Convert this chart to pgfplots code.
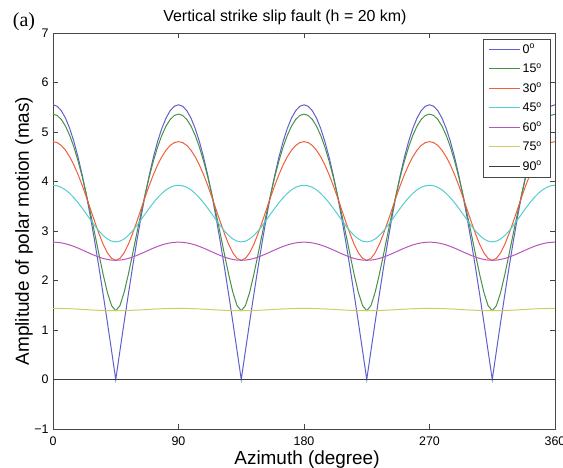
\documentclass[border=0pt]{standalone}
\usepackage{pgfplots}
\pgfplotsset{compat=1.18}
\usepackage{pgfplotstable}
\usepackage{fontspec}
\setmainfont{Liberation Sans}
\newfontfamily\serifit{Liberation Serif}
\definecolor{axgray}{RGB}{70,70,70}
\definecolor{c0}{RGB}{95,95,205}
\definecolor{c15}{RGB}{70,145,70}
\definecolor{c30}{RGB}{240,95,60}
\definecolor{c45}{RGB}{85,205,205}
\definecolor{c60}{RGB}{185,85,185}
\definecolor{c75}{RGB}{205,205,100}
\definecolor{c90}{RGB}{60,60,60}
\pgfplotstableread{
t a b c d e f
0 5.550 5.361 4.806 3.924 2.775 1.437
3 5.520 5.334 4.786 3.914 2.771 1.436
6 5.429 5.252 4.727 3.882 2.760 1.435
9 5.278 5.117 4.631 3.830 2.742 1.432
12 5.070 4.930 4.498 3.759 2.718 1.429
15 4.806 4.695 4.333 3.672 2.688 1.425
18 4.490 4.414 4.138 3.571 2.654 1.421
21 4.124 4.091 3.918 3.459 2.617 1.416
24 3.714 3.733 3.680 3.341 2.579 1.411
27 3.262 3.346 3.431 3.222 2.541 1.406
30 2.775 2.939 3.182 3.106 2.505 1.402
33 2.257 2.523 2.943 2.999 2.472 1.398
36 1.715 2.119 2.729 2.909 2.445 1.395
39 1.154 1.758 2.558 2.839 2.425 1.392
42 0.580 1.492 2.447 2.795 2.412 1.391
45 0.000 1.390 2.408 2.780 2.408 1.390
48 0.580 1.492 2.447 2.795 2.412 1.391
51 1.154 1.758 2.558 2.839 2.425 1.392
54 1.715 2.119 2.729 2.909 2.445 1.395
57 2.257 2.523 2.943 2.999 2.472 1.398
60 2.775 2.939 3.182 3.106 2.505 1.402
63 3.262 3.346 3.431 3.222 2.541 1.406
66 3.714 3.733 3.680 3.341 2.579 1.411
69 4.124 4.091 3.918 3.459 2.617 1.416
72 4.490 4.414 4.138 3.571 2.654 1.421
75 4.806 4.695 4.333 3.672 2.688 1.425
78 5.070 4.930 4.498 3.759 2.718 1.429
81 5.278 5.117 4.631 3.830 2.742 1.432
84 5.429 5.252 4.727 3.882 2.760 1.435
87 5.520 5.334 4.786 3.914 2.771 1.436
90 5.550 5.361 4.806 3.924 2.775 1.437
93 5.520 5.334 4.786 3.914 2.771 1.436
96 5.429 5.252 4.727 3.882 2.760 1.435
99 5.278 5.117 4.631 3.830 2.742 1.432
102 5.070 4.930 4.498 3.759 2.718 1.429
105 4.806 4.695 4.333 3.672 2.688 1.425
108 4.490 4.414 4.138 3.571 2.654 1.421
111 4.124 4.091 3.918 3.459 2.617 1.416
114 3.714 3.733 3.680 3.341 2.579 1.411
117 3.262 3.346 3.431 3.222 2.541 1.406
120 2.775 2.939 3.182 3.106 2.505 1.402
123 2.257 2.523 2.943 2.999 2.472 1.398
126 1.715 2.119 2.729 2.909 2.445 1.395
129 1.154 1.758 2.558 2.839 2.425 1.392
132 0.580 1.492 2.447 2.795 2.412 1.391
135 0.000 1.390 2.408 2.780 2.408 1.390
138 0.580 1.492 2.447 2.795 2.412 1.391
141 1.154 1.758 2.558 2.839 2.425 1.392
144 1.715 2.119 2.729 2.909 2.445 1.395
147 2.257 2.523 2.943 2.999 2.472 1.398
150 2.775 2.939 3.182 3.106 2.505 1.402
153 3.262 3.346 3.431 3.222 2.541 1.406
156 3.714 3.733 3.680 3.341 2.579 1.411
159 4.124 4.091 3.918 3.459 2.617 1.416
162 4.490 4.414 4.138 3.571 2.654 1.421
165 4.806 4.695 4.333 3.672 2.688 1.425
168 5.070 4.930 4.498 3.759 2.718 1.429
171 5.278 5.117 4.631 3.830 2.742 1.432
174 5.429 5.252 4.727 3.882 2.760 1.435
177 5.520 5.334 4.786 3.914 2.771 1.436
180 5.550 5.361 4.806 3.924 2.775 1.437
183 5.520 5.334 4.786 3.914 2.771 1.436
186 5.429 5.252 4.727 3.882 2.760 1.435
189 5.278 5.117 4.631 3.830 2.742 1.432
192 5.070 4.930 4.498 3.759 2.718 1.429
195 4.806 4.695 4.333 3.672 2.688 1.425
198 4.490 4.414 4.138 3.571 2.654 1.421
201 4.124 4.091 3.918 3.459 2.617 1.416
204 3.714 3.733 3.680 3.341 2.579 1.411
207 3.262 3.346 3.431 3.222 2.541 1.406
210 2.775 2.939 3.182 3.106 2.505 1.402
213 2.257 2.523 2.943 2.999 2.472 1.398
216 1.715 2.119 2.729 2.909 2.445 1.395
219 1.154 1.758 2.558 2.839 2.425 1.392
222 0.580 1.492 2.447 2.795 2.412 1.391
225 0.000 1.390 2.408 2.780 2.408 1.390
228 0.580 1.492 2.447 2.795 2.412 1.391
231 1.154 1.758 2.558 2.839 2.425 1.392
234 1.715 2.119 2.729 2.909 2.445 1.395
237 2.257 2.523 2.943 2.999 2.472 1.398
240 2.775 2.939 3.182 3.106 2.505 1.402
243 3.262 3.346 3.431 3.222 2.541 1.406
246 3.714 3.733 3.680 3.341 2.579 1.411
249 4.124 4.091 3.918 3.459 2.617 1.416
252 4.490 4.414 4.138 3.571 2.654 1.421
255 4.806 4.695 4.333 3.672 2.688 1.425
258 5.070 4.930 4.498 3.759 2.718 1.429
261 5.278 5.117 4.631 3.830 2.742 1.432
264 5.429 5.252 4.727 3.882 2.760 1.435
267 5.520 5.334 4.786 3.914 2.771 1.436
270 5.550 5.361 4.806 3.924 2.775 1.437
273 5.520 5.334 4.786 3.914 2.771 1.436
276 5.429 5.252 4.727 3.882 2.760 1.435
279 5.278 5.117 4.631 3.830 2.742 1.432
282 5.070 4.930 4.498 3.759 2.718 1.429
285 4.806 4.695 4.333 3.672 2.688 1.425
288 4.490 4.414 4.138 3.571 2.654 1.421
291 4.124 4.091 3.918 3.459 2.617 1.416
294 3.714 3.733 3.680 3.341 2.579 1.411
297 3.262 3.346 3.431 3.222 2.541 1.406
300 2.775 2.939 3.182 3.106 2.505 1.402
303 2.257 2.523 2.943 2.999 2.472 1.398
306 1.715 2.119 2.729 2.909 2.445 1.395
309 1.154 1.758 2.558 2.839 2.425 1.392
312 0.580 1.492 2.447 2.795 2.412 1.391
315 0.000 1.390 2.408 2.780 2.408 1.390
318 0.580 1.492 2.447 2.795 2.412 1.391
321 1.154 1.758 2.558 2.839 2.425 1.392
324 1.715 2.119 2.729 2.909 2.445 1.395
327 2.257 2.523 2.943 2.999 2.472 1.398
330 2.775 2.939 3.182 3.106 2.505 1.402
333 3.262 3.346 3.431 3.222 2.541 1.406
336 3.714 3.733 3.680 3.341 2.579 1.411
339 4.124 4.091 3.918 3.459 2.617 1.416
342 4.490 4.414 4.138 3.571 2.654 1.421
345 4.806 4.695 4.333 3.672 2.688 1.425
348 5.070 4.930 4.498 3.759 2.718 1.429
351 5.278 5.117 4.631 3.830 2.742 1.432
354 5.429 5.252 4.727 3.882 2.760 1.435
357 5.520 5.334 4.786 3.914 2.771 1.436
360 5.550 5.361 4.806 3.924 2.775 1.437
}\data
\begin{document}
\begin{tikzpicture}
\begin{axis}[
  at={(0,0)}, anchor=south west,
  scale only axis, width=502bp, height=396bp,
  xmin=0, xmax=360, ymin=-1, ymax=7,
  xtick={0,90,180,270,360}, xticklabels={0,90,180,270,360},
  ytick={-1,0,1,2,3,4,5,6,7}, yticklabels={−1,0,1,2,3,4,5,6,7},
  tick align=inside, major tick length=5bp,
  tick style={color=axgray, line width=0.6bp},
  axis line style={color=axgray, line width=0.8bp},
  ticklabel style={font=\fontsize{12.5}{14}\selectfont},
  /pgf/number format/assume math mode=true,
  xticklabel style={yshift=-4bp},
  yticklabel style={xshift=-1bp},
  title={Vertical strike slip fault (h = 20 km)},
  title style={at={(axis description cs:0.462,1.0152)}, anchor=base, font=\fontsize{16}{18}\selectfont},
  xlabel={Azimuth (degree)},
  xlabel style={at={(axis description cs:0.506,-0.0884)}, anchor=base, font=\fontsize{19}{21}\selectfont},
  ylabel={Amplitude of polar motion (mas)},
  ylabel style={at={(axis description cs:-0.0578,0.5)}, anchor=center, font=\fontsize{19}{21}\selectfont},
  legend style={at={(axis description cs:0.990,0.985)}, anchor=north east, draw=axgray, fill=white, inner xsep=6bp, inner ysep=3bp, row sep=5bp, font=\fontsize{12.5}{14}\selectfont},
  legend cell align=left,
  legend image post style={xscale=1.8, line width=1.1bp},
]
\addplot[color=c0, line width=1bp] table[x=t,y=a]{\data};
\addplot[color=c15, line width=1bp] table[x=t,y=b]{\data};
\addplot[color=c30, line width=1bp] table[x=t,y=c]{\data};
\addplot[color=c45, line width=1bp] table[x=t,y=d]{\data};
\addplot[color=c60, line width=1bp] table[x=t,y=e]{\data};
\addplot[color=c75, line width=1bp] table[x=t,y=f]{\data};
\addplot[color=c90, line width=1bp] coordinates {(0,0) (360,0)};
\legend{0\textsuperscript{o},15\textsuperscript{o},30\textsuperscript{o},45\textsuperscript{o},60\textsuperscript{o},75\textsuperscript{o},90\textsuperscript{o}}
\end{axis}
\node[font=\serifit\fontsize{20}{22}\selectfont, anchor=base] at (-29bp,402bp) {(a)};
\pgfresetboundingbox
\path[use as bounding box] (-53bp,-39bp) rectangle (510bp,429bp);
\end{tikzpicture}
\end{document}
